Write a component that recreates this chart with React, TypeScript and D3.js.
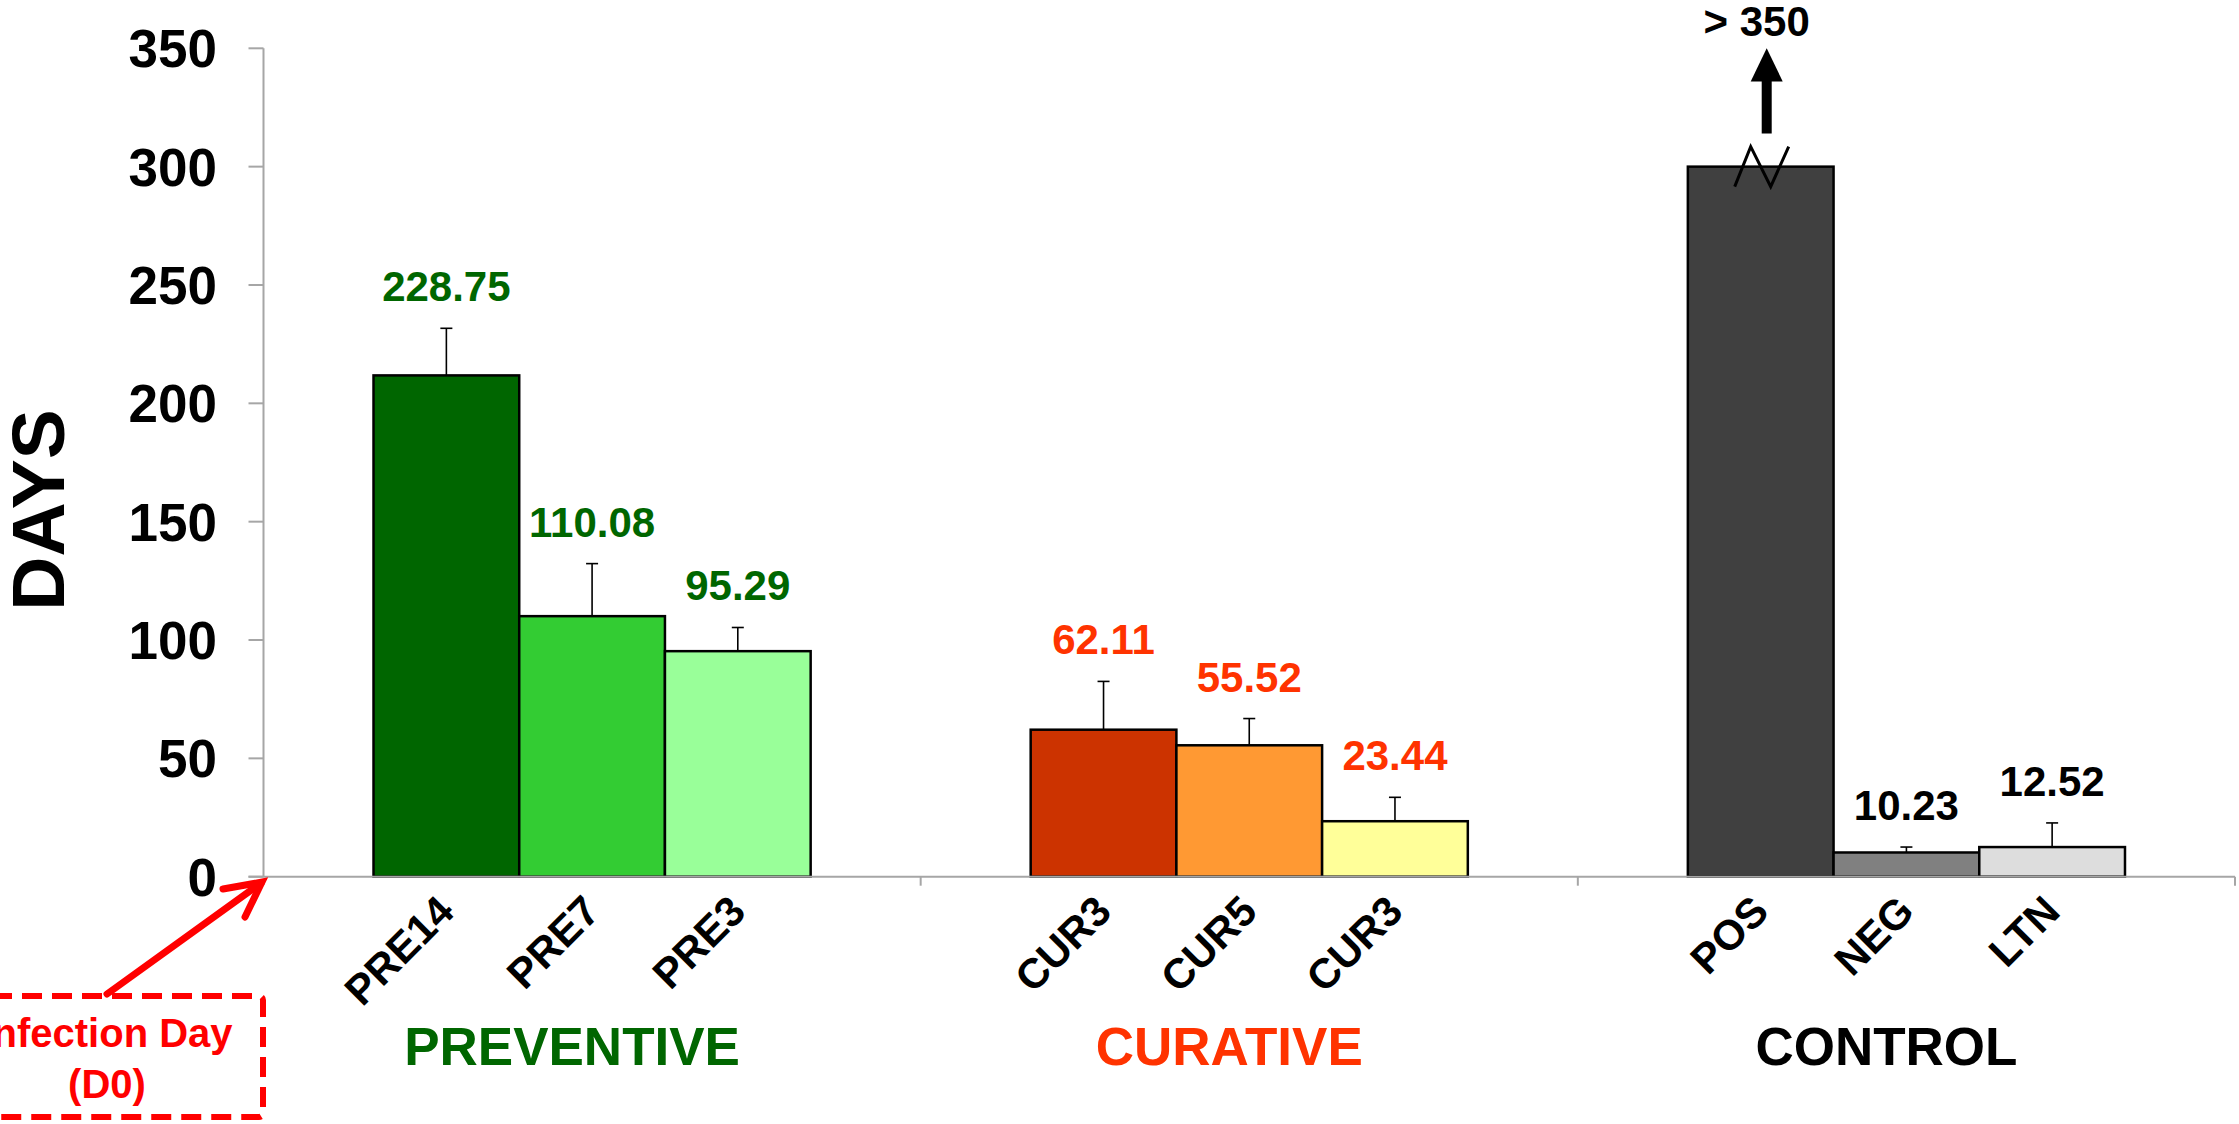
import * as d3 from "d3";
import React from "react";

// Chart data
const groups = ["PREVENTIVE", "CURATIVE", "CONTROL"];
const groupColors = ["#006600", "#FF3300", "#000000"];
const categories = ["PRE14", "PRE7", "PRE3", "CUR3", "CUR5", "CUR3", "POS", "NEG", "LTN"];
const categoryGroup = [0, 0, 0, 1, 1, 1, 2, 2, 2];
const values = [211.8, 110.08, 95.29, 62.11, 55.52, 23.44, 300, 10.23, 12.52];
const errors = [19.9, 22.2, 10, 20.4, 11.3, 10.1, 0, 2.3, 10.2];
const valueLabels = ["228.75", "110.08", "95.29", "62.11", "55.52", "23.44", "> 350", "10.23", "12.52"];
const barColors = ["#006600", "#33CC33", "#99FF99", "#CC3300", "#FF9933", "#FFFF99", "#404040", "#808080", "#DDDDDD"];
const yTicks = [0, 50, 100, 150, 200, 250, 300, 350];
const brokenIndex = 6; // POS bar is cut at 300, real value > 350

const FONT = "'Liberation Sans', Arial, Helvetica, sans-serif";
const AXIS_GRAY = "#A6A6A6";

const App: React.FC = () => {
  const width = 2239;
  const height = 1124;
  const margin = { left: 263.5, right: 4, top: 48.3, bottom: 247.3 };

  const y = d3.scaleLinear()
    .domain([0, 350])
    .range([height - margin.bottom, margin.top]);

  const xGroup = d3.scaleBand<string>()
    .domain(groups)
    .range([margin.left, width - margin.right])
    .padding(0);

  const xInner = d3.scaleBand<number>()
    .domain([0, 1, 2])
    .range([0, xGroup.bandwidth()])
    .paddingInner(0)
    .paddingOuter(0.755);

  // position of each bar inside its group
  const slot = categoryGroup.map((g, i) => i - categoryGroup.indexOf(g));
  const barX = (i: number) => xGroup(groups[categoryGroup[i]])! + xInner(slot[i])!;
  const bw = xInner.bandwidth();
  const y0 = y(0);

  const labelColor = (i: number) => groupColors[categoryGroup[i]];

  return (
    <svg
      width={width}
      height={height}
      style={{ position: "absolute", left: 0, top: 0, background: "#fff" }}
      fontFamily={FONT}
      fontWeight="bold"
    >
      {/* Y axis */}
      <line x1={margin.left} x2={margin.left} y1={y(350)} y2={y0} stroke={AXIS_GRAY} strokeWidth={2} />
      {yTicks.map((t) => (
        <g key={t}>
          <line x1={margin.left - 15} x2={margin.left} y1={y(t)} y2={y(t)} stroke={AXIS_GRAY} strokeWidth={2} />
          <text x={217} y={y(t)} dy="0.36em" textAnchor="end" fontSize={53} fill="#000">
            {t}
          </text>
        </g>
      ))}

      {/* Y axis title */}
      <text
        transform={`translate(64,510) rotate(-90)`}
        textAnchor="middle"
        fontSize={75}
        fill="#000"
      >
        DAYS
      </text>

      {/* Bars */}
      {values.map((v, i) => (
        <rect
          key={"bar" + i}
          x={barX(i)}
          y={y(v)}
          width={bw}
          height={y0 - y(v)}
          fill={barColors[i]}
          stroke="#000"
          strokeWidth={2.5}
        />
      ))}

      {/* Error bars (upper only) */}
      {values.map((v, i) =>
        errors[i] > 0 ? (
          <g key={"err" + i} stroke="#000" strokeWidth={1.6}>
            <line x1={barX(i) + bw / 2} x2={barX(i) + bw / 2} y1={y(v)} y2={y(v + errors[i])} />
            <line x1={barX(i) + bw / 2 - 6} x2={barX(i) + bw / 2 + 6} y1={y(v + errors[i])} y2={y(v + errors[i])} />
          </g>
        ) : null
      )}

      {/* X axis */}
      <line x1={margin.left - 15} x2={width - margin.right} y1={y0} y2={y0} stroke={AXIS_GRAY} strokeWidth={2} />
      {groups.map((g) => (
        <line
          key={"gt" + g}
          x1={xGroup(g)! + xGroup.bandwidth()}
          x2={xGroup(g)! + xGroup.bandwidth()}
          y1={y0}
          y2={y0 + 9}
          stroke={AXIS_GRAY}
          strokeWidth={2}
        />
      ))}

      {/* Value labels */}
      {values.map((v, i) =>
        i === brokenIndex ? null : (
          <text
            key={"vl" + i}
            x={barX(i) + bw / 2}
            y={y(v + errors[i]) - 27}
            textAnchor="middle"
            fontSize={42}
            fill={labelColor(i)}
          >
            {valueLabels[i]}
          </text>
        )
      )}

      {/* Broken POS bar: zigzag, arrow and label */}
      {(() => {
        const cx = barX(brokenIndex) + bw / 2;
        const top = y(values[brokenIndex]);
        const zz = d3.line()([
          [cx - 26, top + 20],
          [cx - 10, top - 20],
          [cx + 10, top + 20],
          [cx + 28, top - 20],
        ]);
        const ax = cx + 6;
        const tip = y(350);
        const headBase = y(336);
        const tail = y(314);
        return (
          <g>
            <path d={zz!} fill="none" stroke="#000" strokeWidth={3} />
            <rect x={ax - 5} y={headBase - 1} width={10} height={tail - headBase + 1} fill="#000" />
            <path d={`M${ax},${tip} L${ax - 16},${headBase} L${ax + 16},${headBase} Z`} fill="#000" />
            <text x={cx - 4} y={tip - 12} textAnchor="middle" fontSize={42} fill="#000">
              {valueLabels[brokenIndex]}
            </text>
          </g>
        );
      })()}

      {/* Category labels */}
      {categories.map((c, i) => (
        <text
          key={"cl" + i}
          transform={`translate(${barX(i) + bw / 2 + 10},${y0 + 37}) rotate(-45)`}
          textAnchor="end"
          fontSize={42}
          fill="#000"
        >
          {c}
        </text>
      ))}

      {/* Group labels */}
      {groups.map((g, gi) => (
        <text
          key={"gl" + g}
          x={xGroup(g)! + xGroup.bandwidth() / 2 - 20}
          y={1065}
          textAnchor="middle"
          fontSize={53}
          fill={groupColors[gi]}
        >
          {g}
        </text>
      ))}

      {/* Infection day annotation */}
      <rect
        x={-12}
        y={996}
        width={275}
        height={121}
        rx={4}
        fill="none"
        stroke="#FF0000"
        strokeWidth={6}
        strokeDasharray="20 10"
      />
      <text x={107} y={1047} textAnchor="middle" fontSize={40} fill="#FF0000">
        Infection Day
      </text>
      <text x={107} y={1098} textAnchor="middle" fontSize={40} fill="#FF0000">
        (D0)
      </text>
      <g stroke="#FF0000" strokeWidth={7} strokeLinecap="round" fill="none">
        <line x1={107} y1={994} x2={261} y2={883} />
        <path d="M223,889 L262,882 L245,917" />
      </g>
    </svg>
  );
};

export default App;
